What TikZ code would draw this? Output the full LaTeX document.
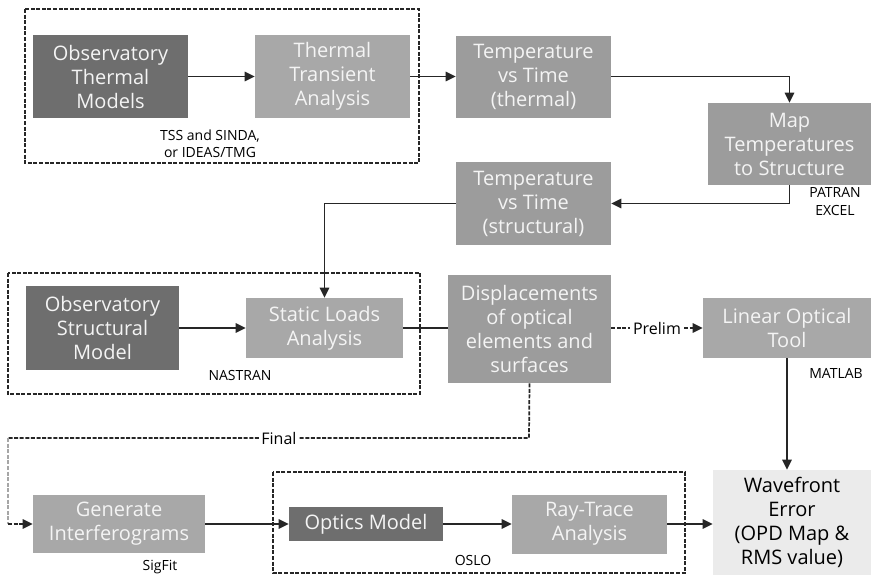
\documentclass[tikz,border=0pt]{standalone}
\usepackage{fontspec}
\setmainfont{Open Sans}
\usetikzlibrary{arrows.meta}
\definecolor{darkbox}{HTML}{6E6E6E}
\definecolor{midbox}{HTML}{9C9C9C}
\definecolor{lightbox}{HTML}{A8A8A8}
\definecolor{wavebox}{HTML}{EBEBEB}
\definecolor{boxtext}{HTML}{F4F4F4}
\tikzset{
  fbox/.style={draw=none, align=center, inner sep=0pt, text=boxtext,
    font=\fontsize{15}{18}\selectfont},
  darkfill/.style={fbox, fill=darkbox},
  midfill/.style={fbox, fill=midbox},
  lightfill/.style={fbox, fill=lightbox},
  group/.style={draw=black!85, line width=1.6pt, dash pattern=on 3pt off 1.2pt},
  conn/.style={draw=black!85, line width=1.3pt},
  arr/.style={conn, -{Triangle[length=7.5pt,width=7pt]}},
  darr/.style={arr, dash pattern=on 3pt off 1.2pt},
  tool/.style={font=\fontsize{10.5}{13}\selectfont, align=center, inner sep=0pt},
  lbl/.style={font=\fontsize{12}{14}\selectfont, fill=white, inner sep=2pt}
}
\begin{document}
\begin{tikzpicture}[x=0.75pt, y=-0.75pt]
\useasboundingbox (0,0) rectangle (871,575);
% group frames
\draw[group] (25,9) rectangle (419,163);
\draw[group] (8,273) rectangle (420,394);
\draw[group] (273,472) rectangle (685,573);
% boxes
\node[darkfill, minimum width=155*0.75pt, minimum height=83*0.75pt] (obsTherm) at (110.5,76.5) {Observatory\\Thermal\\Models};
\node[lightfill, minimum width=155*0.75pt, minimum height=83*0.75pt] (thermTrans) at (332.5,76.5) {Thermal\\Transient\\Analysis};
\node[midfill, minimum width=155*0.75pt, minimum height=82*0.75pt] (tempTh) at (533.5,76.5) {Temperature\\vs Time\\(thermal)};
\node[midfill, minimum width=163*0.75pt, minimum height=82*0.75pt] (mapT) at (789.5,144) {Map\\Temperatures\\to Structure};
\node[midfill, minimum width=155*0.75pt, minimum height=83*0.75pt] (tempSt) at (533.5,203.5) {Temperature\\vs Time\\(structural)};
\node[darkfill, minimum width=153*0.75pt, minimum height=84*0.75pt] (obsStr) at (102.5,328) {Observatory\\Structural\\Model};
\node[lightfill, minimum width=157*0.75pt, minimum height=60*0.75pt] (static) at (324.5,328) {Static Loads\\Analysis};
\node[midfill, minimum width=163*0.75pt, minimum height=108*0.75pt] (disp) at (529.5,329) {Displacements\\of optical\\elements and\\surfaces};
\node[lightfill, minimum width=168*0.75pt, minimum height=60*0.75pt] (lot) at (787,328) {Linear Optical\\Tool};
\node[lightfill, minimum width=172*0.75pt, minimum height=58*0.75pt] (genI) at (119,524) {Generate\\Interferograms};
\node[darkfill, minimum width=154*0.75pt, minimum height=34*0.75pt] (optics) at (366,524) {Optics Model};
\node[lightfill, minimum width=155*0.75pt, minimum height=59*0.75pt] (ray) at (589.5,524) {Ray-Trace\\Analysis};
\node[fbox, fill=wavebox, text=black, minimum width=158*0.75pt, minimum height=105*0.75pt] (wave) at (792,522.5) {Wavefront\\Error\\(OPD Map \&\\RMS value)};
% tool labels
\node[tool] (tssLbl) at (210,144) {TSS and SINDA,\\or IDEAS/TMG};
\node[tool] (patLbl) at (835,201.5) {PATRAN\\EXCEL};
\node[tool] (nasLbl) at (240,375) {NASTRAN};
\node[tool] (matLbl) at (836,373) {MATLAB};
\node[tool] (osloLbl) at (473,560) {OSLO};
\node[tool] (sigLbl) at (160,567) {SigFit};
% connectors
\draw[arr] (obsTherm.east) -- (thermTrans.west);
\draw[arr] (thermTrans.east) -- (tempTh.west);
\draw[arr] (tempTh.east) -| (mapT.north);
\draw[arr] (mapT.south) |- (tempSt.east);
\draw[arr] (tempSt.west) -| (static.north);
\draw[arr] (obsStr.east) -- (static.west);
\draw[conn] (static.east) -- (static.east -| disp.west);
\draw[darr] (disp.east |- lot.west) -- node[lbl] (prelimLbl) {Prelim} (lot.west);
\draw[arr] (lot.south) -- (lot.south |- wave.north);
\coordinate (fA) at (529,438);
\coordinate (fB) at (8,438);
\coordinate (fC) at (8,524);
\draw[conn, dash pattern=on 3pt off 1.2pt] (disp.south) -- (fA) -- node[lbl, pos=0.48] (finalLbl) {Final} (fB);
\draw[conn, draw=black!35, dash pattern=on 3pt off 1.2pt] (fB) -- (fC);
\draw[darr] (fC) -- (genI.west);
\draw[arr] (genI.east) -- (optics.west);
\draw[arr] (optics.east) -- (ray.west);
\draw[arr] (ray.east) -- (ray.east -| wave.west);
\end{tikzpicture}
\end{document}
